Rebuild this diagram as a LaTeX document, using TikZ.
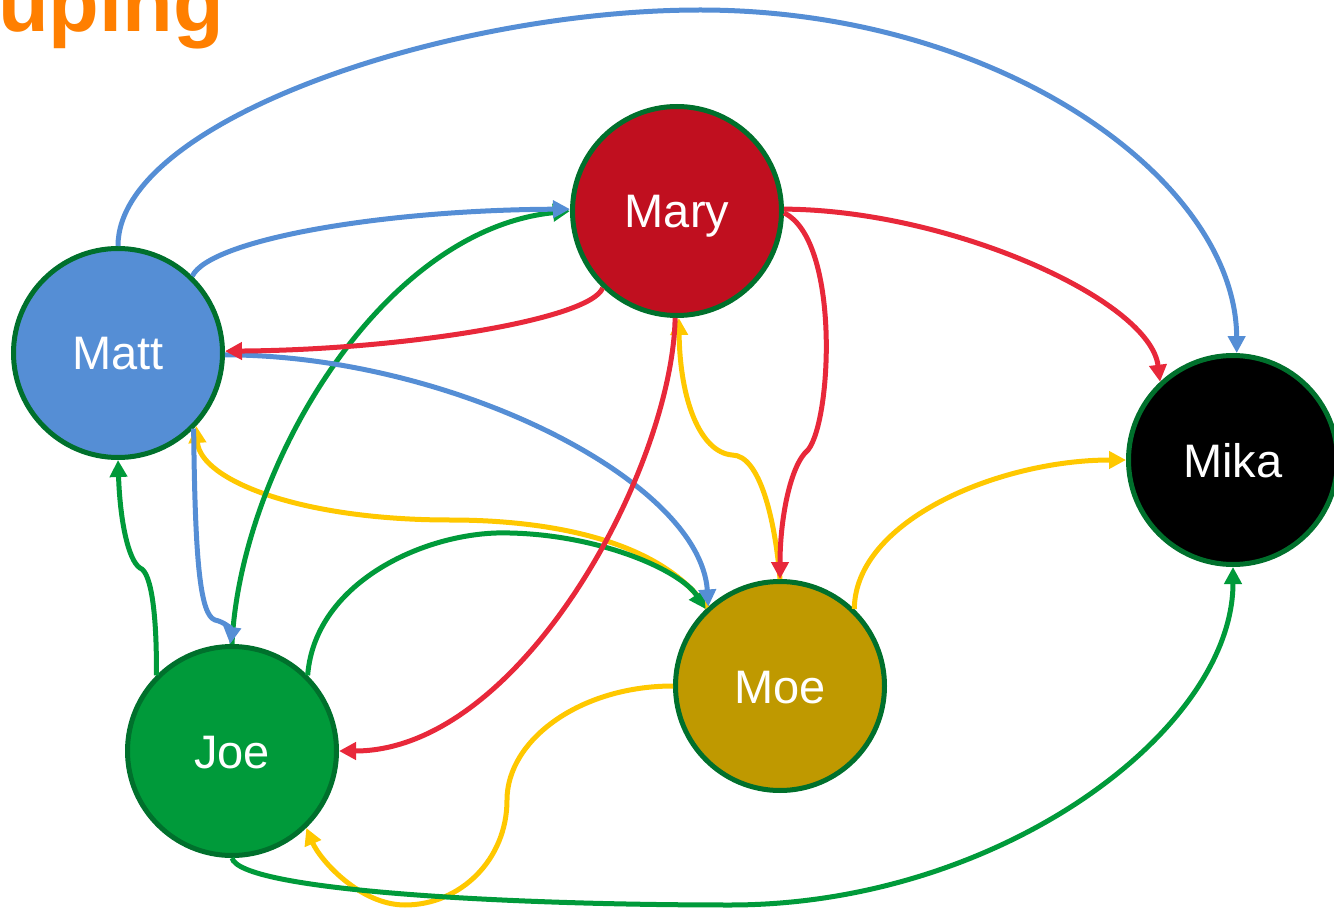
\documentclass[tikz,border=0pt]{standalone}
\usepackage{fontspec}
\setmainfont{Liberation Sans}
\usetikzlibrary{arrows.meta}
\definecolor{cblue}{HTML}{558ED5}
\definecolor{cred}{HTML}{E8283A}
\definecolor{cyellow}{HTML}{FFC800}
\definecolor{cgreen}{HTML}{009A3A}
\definecolor{cmary}{HTML}{C00F1F}
\definecolor{cmoe}{HTML}{BF9900}
\definecolor{cjoe}{HTML}{009A3A}
\definecolor{cborder}{HTML}{00702C}
\definecolor{ctitle}{HTML}{FF7F00}
\begin{document}
\begin{tikzpicture}[x=1pt,y=-1pt,
  person/.style={circle, draw=cborder, line width=5pt, minimum size=209pt, inner sep=0pt, text=white, text height=34pt, text depth=0pt, font=\fontsize{47}{56}\selectfont},
  edge/.style={line width=5pt, -{Triangle[length=17pt,width=17pt]}}]
\useasboundingbox (0,0) rectangle (1334,909);
\node[anchor=base west, inner sep=0pt, text=ctitle, font=\fontsize{83}{90}\selectfont\bfseries] (title) at (-2,32) {uping};

\node[person, fill=cmary] (mary) at (677,211) {Mary};
\node[person, fill=cblue] (matt) at (118,353) {Matt};
\node[person, fill=black] (mika) at (1233,460) {Mika};
\node[person, fill=cmoe] (moe) at (780,686) {Moe};
\node[person, fill=cjoe] (joe) at (232,751) {Joe};

% yellow (Moe)
\draw[edge, cyellow] (moe.90) .. controls (775,520) and (760,455) .. (732,455) .. controls (700,452) and (680,400) .. (mary.271);
\draw[edge, cyellow] (moe.46) .. controls (855,520) and (1000,460) .. (mika.180);
\draw[edge, cyellow] (moe.133) .. controls (660,540) and (550,520) .. (450,520) .. controls (300,520) and (200,480) .. (matt.-43);
\draw[edge, cyellow] (moe.180) .. controls (580,686) and (507,740) .. (507,800) .. controls (507,860) and (460,905) .. (405,905) .. controls (360,905) and (320,860) .. (joe.-46);

% green (Joe)
\draw[edge, cgreen] (joe.135) .. controls (157,620) and (152,572) .. (140,568) .. controls (128,560) and (120,520) .. (matt.270);
\draw[edge, cgreen] (joe.90) .. controls (240,470) and (380,230) .. (mary.180);
\draw[edge, cgreen] (joe.45) .. controls (315,580) and (430,530) .. (510,533) .. controls (600,535) and (680,570) .. (moe.134);
\draw[edge, cgreen] (joe.270) .. controls (240,890) and (500,905) .. (730,905) .. controls (1000,905) and (1233,730) .. (mika.270);

% blue (Matt)
\draw[edge, cblue] (matt.90) .. controls (118,120) and (450,10) .. (700,10) .. controls (1000,10) and (1236,180) .. (mika.88);
\draw[edge, cblue] (matt.46) .. controls (210,240) and (380,210) .. (mary.179);
\draw[edge, cblue] (matt.-1) .. controls (450,355) and (700,480) .. (moe.132);
\draw[edge, cblue] (matt.-45) .. controls (195,560) and (200,615) .. (215,620) .. controls (225,622) and (232,630) .. (joe.91);

% red (Mary)
\draw[edge, cred] (mary.226) .. controls (590,320) and (400,350) .. (matt.1);
\draw[edge, cred] (mary.269) .. controls (672,470) and (520,751) .. (joe.0);
\draw[edge, cred] (mary.1) .. controls (950,210) and (1150,300) .. (mika.133);
\draw[edge, cred] (mary.-1) .. controls (840,240) and (832,420) .. (808,450) .. controls (790,465) and (780,520) .. (moe.90);
\end{tikzpicture}
\end{document}
